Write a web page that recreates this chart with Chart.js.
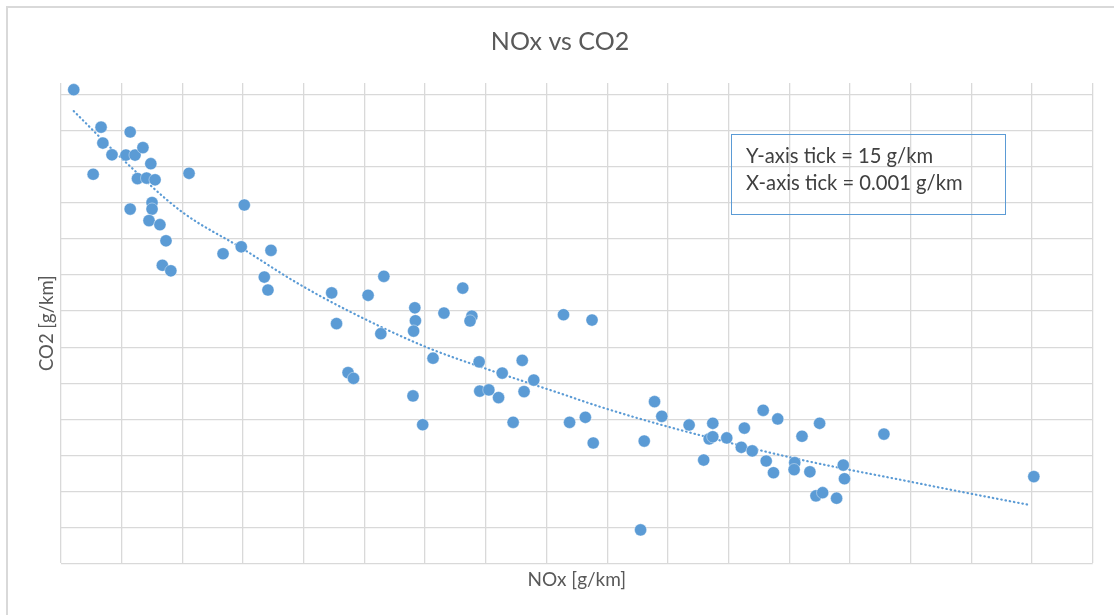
<!DOCTYPE html>
<html>
<head>
<meta charset="utf-8">
<script src="https://cdn.jsdelivr.net/npm/chart.js@4/dist/chart.umd.min.js"></script>
<style>
    body { margin: 0; background: #fff; }
    #wrap { position: relative; width: 1114px; height: 615px; overflow: hidden; }
    #frame {
        position: absolute; left: 6px; top: 6px; width: 1200px; height: 700px;
        border: 2px solid #d9d9d9;
    }
    #chart { position: absolute; left: 0; top: 0; }
    #note {
        position: absolute; left: 731px; top: 134px; width: 275px; height: 81px;
        box-sizing: border-box; border: 1.5px solid #5b9bd5;
        padding: 7px 0 0 14px;
        font-family: Lato, sans-serif; font-size: 20.2px; line-height: 27.4px; color: #404040;
    }
</style>
</head>
<body>
<div id="wrap">
    <div id="frame"></div>
    <canvas id="chart" width="1114" height="615"></canvas>
    <div id="note">Y-axis tick = 15 g/km<br>X-axis tick = 0.001 g/km</div>
</div>
<script>
// measured vehicles: NOx [g/km] and CO2 [g/km]
const nox = [
    0.00021, 0.00066, 0.00069, 0.00084, 0.00114, 0.00107, 0.00122, 0.00135, 0.00148, 0.00053,
    0.00126, 0.00141, 0.00155, 0.00211, 0.00150, 0.00150, 0.00114, 0.00145, 0.00163, 0.00173,
    0.00302, 0.00267, 0.00297, 0.00346, 0.00167, 0.00181, 0.00335, 0.00341, 0.00532, 0.00446,
    0.00506, 0.00662, 0.00583, 0.00631, 0.00677, 0.00674, 0.00454, 0.00584, 0.00581, 0.00527,
    0.00613, 0.00689, 0.00760, 0.00727, 0.00779, 0.00473, 0.00482, 0.00690, 0.00705, 0.00721,
    0.00763, 0.00580, 0.00596, 0.00745, 0.00828, 0.00875, 0.00978, 0.00990, 0.00864, 0.00838,
    0.00877, 0.00961, 0.00955, 0.01035, 0.01074, 0.01068, 0.01074, 0.01097, 0.01126, 0.01157,
    0.01181, 0.01121, 0.01139, 0.01059, 0.01162, 0.01174, 0.01209, 0.01208, 0.01221, 0.01250,
    0.01356, 0.01234, 0.01289, 0.01291, 0.01244, 0.01255, 0.01278, 0.01603
];
const co2 = [
    297.2, 281.6, 275.0, 270.1, 279.6, 270.0, 270.0, 273.1, 266.4, 262.0,
    260.2, 260.4, 259.7, 262.4, 250.2, 247.5, 247.5, 242.7, 241.0, 234.3,
    249.2, 228.9, 231.8, 230.3, 224.1, 221.8, 219.2, 213.8, 219.5, 212.6,
    211.6, 214.6, 206.4, 204.2, 202.9, 200.9, 199.8, 201.0, 196.7, 195.6,
    185.4, 183.9, 184.5, 179.2, 176.3, 179.4, 177.0, 171.7, 172.2, 169.0,
    171.5, 169.7, 157.7, 158.7, 203.5, 201.3, 167.3, 161.2, 160.8, 158.7,
    150.1, 150.9, 113.9, 157.6, 158.3, 151.8, 152.7, 152.2, 156.3, 163.7,
    160.1, 148.3, 146.8, 143.0, 142.6, 137.7, 141.9, 139.0, 152.9, 158.3,
    153.8, 138.1, 140.9, 135.2, 128.1, 129.4, 127.1, 136.1
];

// dotted trend curve
const trendNox = [0.00021, 0.00100, 0.00199, 0.00298, 0.00390, 0.00476, 0.00600, 0.00690,
    0.00822, 0.00888, 0.01000, 0.01209, 0.01399, 0.01501, 0.01596];
const trendCo2 = [288.3, 268.6, 246.4, 231.2, 216.6, 204.8, 190.2, 181.9,
    170.8, 165.2, 156.9, 143.7, 134.0, 128.9, 124.3];

// gridline positions (tick labels are hidden)
const xTicks = [0, 0.001, 0.002, 0.003, 0.004, 0.005, 0.006, 0.007, 0.008,
    0.009, 0.010, 0.011, 0.012, 0.013, 0.014, 0.015, 0.016, 0.017];
const yTicks = [100, 115, 130, 145, 160, 175, 190, 205, 220, 235, 250, 265, 280, 295];

const blue = "#5b9bd5";
const textGray = "#595959";
const gridGray = "#d9d9d9";

const points = nox.map((x, i) => ({ x: x, y: co2[i] }));
const trend = trendNox.map((x, i) => ({ x: x, y: trendCo2[i] }));

const ctx = document.getElementById("chart").getContext("2d");
new Chart(ctx, {
    type: "scatter",
    data: {
        datasets: [
            {
                label: "CO2",
                data: points,
                backgroundColor: blue,
                borderColor: "rgba(255,255,255,0.5)",
                borderWidth: 0.8,
                pointRadius: 6.1
            },
            {
                label: "Trend",
                data: trend,
                showLine: true,
                borderColor: blue,
                borderWidth: 2.2,
                borderDash: [0.5, 3.8],
                borderCapStyle: "round",
                cubicInterpolationMode: "monotone",
                pointRadius: 0
            }
        ]
    },
    options: {
        responsive: false,
        animation: false,
        // left/right padding keeps the title centred on the frame
        layout: { padding: { left: 27.3, right: 21.3, top: 0, bottom: 0 } },
        plugins: {
            legend: { display: false },
            tooltip: { enabled: false },
            title: {
                display: true,
                text: "NOx vs CO2",
                color: textGray,
                font: { family: "Lato", size: 25, weight: "normal", lineHeight: 1.2 },
                padding: { top: 26.7, bottom: 26.3 }
            }
        },
        scales: {
            x: {
                min: 0,
                max: 0.017,
                afterBuildTicks: (scale) => { scale.ticks = xTicks.map(v => ({ value: v })); },
                ticks: { display: false },
                grid: { color: gridGray, lineWidth: 1.3, drawTicks: false },
                border: { display: false },
                title: {
                    display: true,
                    text: "NOx [g/km]",
                    color: textGray,
                    font: { family: "Lato", size: 19, lineHeight: 1.2 },
                    padding: { top: 4.8, bottom: 24.1 }
                }
            },
            y: {
                min: 100,
                max: 300,
                afterBuildTicks: (scale) => { scale.ticks = yTicks.map(v => ({ value: v })); },
                ticks: { display: false },
                grid: { color: gridGray, lineWidth: 1.3, drawTicks: false },
                border: { display: false },
                title: {
                    display: true,
                    text: "CO2 [g/km]",
                    color: textGray,
                    font: { family: "Lato", size: 18.5, lineHeight: 1.2 },
                    padding: { top: 9.1, bottom: 2.4 }
                }
            }
        }
    }
});
</script>
</body>
</html>
